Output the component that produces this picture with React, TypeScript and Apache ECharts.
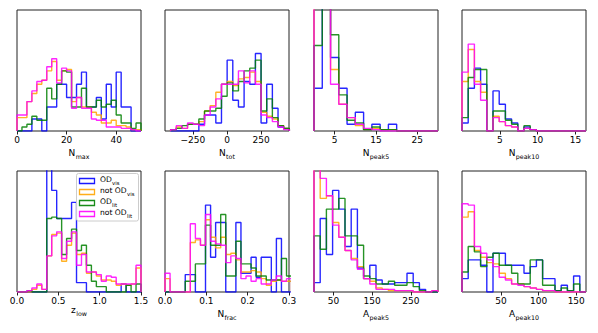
import { useEffect, useRef } from "react";
import * as echarts from "echarts";

const FONT = "DejaVu Sans";

// ---------- series meta ----------
const SERIES_NAMES = ["OD_vis", "not OD_vis", "OD_lit", "not OD_lit"];
const SERIES_COLORS = ["#0000ff", "#ffa500", "#008000", "#ff00ff"];
const LEGEND_MAIN = ["OD", "not OD", "OD", "not OD"];
const LEGEND_SUB = ["vis", "vis", "lit", "lit"];

// ---------- data (bin = [first edge, bin width]; values = relative histogram heights) ----------
// N_max
const nmaxBin = [0, 2];
const nmaxVis = [0, 0, 0, 9, 9, 0, 18, 18, 35, 35, 25, 25, 35, 44, 18, 18, 25, 9, 35, 18, 44, 18, 18, 0, 0];
const nmaxNotVis = [10, 10, 22, 28, 35, 38, 45, 52, 38, 45, 46, 22, 25, 18, 18, 14, 12, 6, 6, 8, 4, 4, 3, 1, 1];
const nmaxLit = [0, 3, 5, 11, 8, 8, 32, 24, 35, 45, 44, 18, 18, 32, 18, 18, 23, 18, 20, 23, 12, 6, 6, 2, 6];
const nmaxNotLit = [12, 12, 22, 30, 37, 38, 48, 54, 36, 47, 45, 17, 25, 17, 17, 9, 8, 8, 3, 3, 3, 2, 2, 1, 0];

// N_tot
const ntotBin = [-414, 41.5];
const ntotVis = [0, 0, 0, 0, 0, 5, 12, 12, 6, 35, 53, 23, 18, 37, 35, 58, 6, 35, 17, 3, 2];
const ntotNotVis = [1, 3, 2, 5, 5, 7, 15, 19, 29, 35, 37, 34, 39, 40, 44, 37, 14, 11, 9, 4, 2];
const ntotLit = [1, 2, 4, 5, 5, 9, 15, 15, 17, 26, 36, 30, 37, 45, 47, 53, 15, 24, 10, 4, 2];
const ntotNotLit = [1, 4, 2, 6, 5, 4, 12, 18, 24, 35, 35, 35, 45, 36, 45, 35, 12, 10, 7, 3, 1];

// N_peak5
const npeak5Bin = [0, 2];
const npeak5Vis = [32, 110, 55, 32, 5, 14, 1, 5, 1, 5, 0, 0, 0, 0, 0];
const npeak5NotVis = [110, 110, 46, 20, 10, 4, 1, 2, 1, 1, 0, 0, 0, 0, 0];
const npeak5Lit = [64, 110, 72, 27, 8, 6, 1, 3, 1, 1, 0, 0, 0, 0, 0];
const npeak5NotLit = [110, 110, 35, 20, 10, 5, 2, 1, 0, 0, 0, 0, 0, 0, 0];

// N_peak10
const npeak10Bin = [0, 0.82];
const npeak10Vis = [6, 32, 47, 35, 0, 30, 20, 9, 6, 0, 3, 1, 0, 0, 0, 0, 0, 0, 0, 0];
const npeak10NotVis = [37, 61, 37, 29, 0, 11, 7, 4, 3, 0, 2, 1, 0, 0, 0, 0, 0, 0, 0, 0];
const npeak10Lit = [10, 40, 46, 46, 0, 15, 15, 8, 5, 0, 4, 1, 0, 0, 0, 0, 0, 0, 0, 0];
const npeak10NotLit = [44, 65, 35, 23, 0, 10, 7, 4, 3, 0, 2, 1, 0, 0, 0, 0, 0, 0, 0, 0];

// z_low
const zlowBin = [0, 0.06];
const zlowVis = [0, 0, 0, 0, 0, 0, 125, 76, 55, 55, 55, 67, 7, 7, 0, 0, 0, 0, 0, 0, 0, 6, 0, 0, 0];
const zlowNotVis = [0, 0, 0, 2, 5, 2, 27, 43, 44, 23, 35, 44, 28, 29, 14, 15, 12, 9, 9, 8, 5, 6, 5, 6, 18];
const zlowLit = [0, 0, 1, 0, 0, 0, 55, 56, 55, 28, 40, 47, 31, 35, 20, 8, 4, 4, 0, 0, 0, 0, 5, 0, 6];
const zlowNotLit = [0, 0, 1, 3, 6, 2, 27, 42, 45, 25, 38, 45, 20, 28, 15, 15, 13, 8, 12, 11, 6, 6, 6, 6, 20];

// N_frac
const nfracBin = [0, 0.01225];
const nfracVis = [0, 0, 0, 0, 13, 13, 0, 0, 65, 26, 52, 52, 0, 0, 52, 14, 14, 26, 11, 26, 26, 0, 40, 0, 0];
const nfracNotVis = [10, 0, 0, 0, 0, 37, 39, 35, 54, 41, 33, 41, 28, 29, 24, 15, 15, 16, 15, 10, 5, 8, 9, 8, 8];
const nfracLit = [0, 0, 0, 0, 8, 8, 21, 21, 50, 35, 35, 58, 12, 12, 38, 21, 21, 18, 12, 12, 9, 9, 9, 25, 12];
const nfracNotLit = [14, 0, 0, 0, 0, 51, 40, 35, 58, 38, 36, 35, 22, 27, 25, 10, 12, 8, 10, 6, 6, 9, 12, 8, 10];

// A_peak5
const apeak5Bin = [0, 16];
const apeak5Vis = [7, 55, 28, 76, 62, 34, 62, 18, 10, 20, 9, 6, 6, 7, 7, 14, 7, 2, 0, 0];
const apeak5NotVis = [100, 70, 72, 52, 41, 31, 25, 19, 10, 8, 3, 2, 1, 1, 1, 1, 0, 0, 0, 1];
const apeak5Lit = [42, 32, 62, 62, 70, 42, 42, 35, 12, 10, 6, 6, 8, 5, 5, 7, 4, 1, 0, 0];
const apeak5NotLit = [100, 85, 72, 50, 41, 31, 24, 17, 10, 6, 2, 2, 2, 1, 1, 1, 0, 0, 0, 1];

// A_peak10
const apeak10Bin = [-2, 8.25];
const apeak10Vis = [10, 24, 24, 20, 0, 29, 29, 20, 20, 20, 14, 19, 24, 10, 10, 1, 5, 1, 12, 0];
const apeak10NotVis = [56, 60, 31, 26, 22, 21, 14, 10, 6, 6, 4, 3, 2, 1, 1, 0, 0, 0, 0, 0];
const apeak10Lit = [15, 34, 30, 19, 26, 29, 20, 20, 14, 6, 6, 24, 24, 5, 5, 1, 3, 1, 6, 0];
const apeak10NotLit = [66, 65, 34, 29, 24, 19, 11, 9, 6, 5, 4, 3, 2, 1, 1, 0, 0, 0, 0, 0];

// axis ranges & ticks
const nmaxRange = [0, 50];
const nmaxTicks = [0, 20, 40];
const ntotRange = [-455, 455];
const ntotTicks = [-250, 0, 250];
const npeak5Range = [0, 30];
const npeak5Ticks = [5, 15, 25];
const npeak10Range = [0, 16.4];
const npeak10Ticks = [5, 10, 15];
const zlowRange = [0, 1.5];
const zlowTicks = [0, 0.5, 1.0, 1.5];
const nfracRange = [0, 0.3];
const nfracTicks = [0, 0.1, 0.2, 0.3];
const apeak5Range = [0, 320];
const apeak5Ticks = [50, 150, 250];
const apeak10Range = [-2, 163];
const apeak10Ticks = [50, 100, 150];
const Y_MAX = 90.5;

const PANELS = [
  { main: "N", sub: "max", range: nmaxRange, ticks: nmaxTicks, bin: nmaxBin, data: [nmaxVis, nmaxNotVis, nmaxLit, nmaxNotLit], fmt: "int", drop: 26.6 },
  { main: "N", sub: "tot", range: ntotRange, ticks: ntotTicks, bin: ntotBin, data: [ntotVis, ntotNotVis, ntotLit, ntotNotLit], fmt: "int", drop: 26.6 },
  { main: "N", sub: "peak5", range: npeak5Range, ticks: npeak5Ticks, bin: npeak5Bin, data: [npeak5Vis, npeak5NotVis, npeak5Lit, npeak5NotLit], fmt: "int", drop: 26.6 },
  { main: "N", sub: "peak10", range: npeak10Range, ticks: npeak10Ticks, bin: npeak10Bin, data: [npeak10Vis, npeak10NotVis, npeak10Lit, npeak10NotLit], fmt: "int", drop: 26.6 },
  { main: "z", sub: "low", range: zlowRange, ticks: zlowTicks, bin: zlowBin, data: [zlowVis, zlowNotVis, zlowLit, zlowNotLit], fmt: "dec", drop: 22.5 },
  { main: "N", sub: "frac", range: nfracRange, ticks: nfracTicks, bin: nfracBin, data: [nfracVis, nfracNotVis, nfracLit, nfracNotLit], fmt: "dec", drop: 26.6 },
  { main: "A", sub: "peak5", range: apeak5Range, ticks: apeak5Ticks, bin: apeak5Bin, data: [apeak5Vis, apeak5NotVis, apeak5Lit, apeak5NotLit], fmt: "int", drop: 26.6 },
  { main: "A", sub: "peak10", range: apeak10Range, ticks: apeak10Ticks, bin: apeak10Bin, data: [apeak10Vis, apeak10NotVis, apeak10Lit, apeak10NotLit], fmt: "int", drop: 26.6 },
];

// ---------- layout ----------
const GRID_LEFTS = [17, 165, 314, 462];
const ROW_TOPS = [10, 171];
const GRID_W = 124;
const GRID_H = 121;
const NAME_SIZE = 9;
const NAME_SUB_SIZE = 6.3;
const LEG_SIZE = 7.6;
const LEG_SUB_SIZE = 5.4;

function stepLine(bin: number[], h: number[]) {
  const [start, w] = bin;
  const pts: number[][] = [[start, 0]];
  h.forEach((v, i) => {
    pts.push([start + i * w, v]);
    pts.push([start + (i + 1) * w, v]);
  });
  pts.push([start + h.length * w, 0]);
  return pts;
}

function fmtTick(kind: string) {
  return (v: number) => {
    if (kind === "dec") return v.toFixed(1);
    const r = Math.round(v);
    return r < 0 ? "\u2212" + Math.abs(r) : String(r);
  };
}

let measureCtx: CanvasRenderingContext2D | null = null;
function textWidth(text: string, size: number) {
  if (!measureCtx) measureCtx = document.createElement("canvas").getContext("2d");
  if (!measureCtx) return text.length * size * 0.6;
  measureCtx.font = `${size}px "${FONT}"`;
  return measureCtx.measureText(text).width;
}

// main text + subscript, left edge at x, main baseline at y
function subText(x: number, baseline: number, main: string, sub: string, size: number, subSize: number, z: number) {
  const wm = textWidth(main, size);
  return [
    {
      type: "text",
      z,
      x,
      y: baseline,
      style: { text: main, fontSize: size, fontFamily: FONT, fill: "#000", align: "left", verticalAlign: "bottom", textBaseline: "alphabetic" },
    },
    {
      type: "text",
      z,
      x: x + wm + 0.3,
      y: baseline + size * 0.2,
      style: { text: sub, fontSize: subSize, fontFamily: FONT, fill: "#000", align: "left", verticalAlign: "bottom", textBaseline: "alphabetic" },
    },
  ];
}

export default function App() {
  const ref = useRef<HTMLDivElement>(null);
  useEffect(() => {
    if (!ref.current) return;
    const chart = echarts.init(ref.current, undefined, { renderer: "svg" });
    const grids: any[] = [];
    const xAxes: any[] = [];
    const yAxes: any[] = [];
    const series: any[] = [];
    const graphic: any[] = [];
    PANELS.forEach((p, i) => {
      const row = Math.floor(i / 4);
      const col = i % 4;
      grids.push({
        left: GRID_LEFTS[col],
        top: ROW_TOPS[row],
        width: GRID_W,
        height: GRID_H,
        show: true,
        borderColor: "#222",
        borderWidth: 1,
        backgroundColor: "transparent",
      });
      xAxes.push({
        gridIndex: i,
        type: "value",
        min: p.range[0],
        max: p.range[1],
        axisLine: { show: false },
        splitLine: { show: false },
        axisTick: { show: true, length: 3.5, customValues: p.ticks, lineStyle: { color: "#222", width: 1 } },
        axisLabel: {
          customValues: p.ticks,
          formatter: fmtTick(p.fmt),
          fontSize: 9,
          fontFamily: FONT,
          color: "#000",
          margin: 4,
        },
      });
      yAxes.push({ gridIndex: i, type: "value", min: 0, max: Y_MAX, show: false });
      p.data.forEach((h, k) => {
        series.push({
          name: SERIES_NAMES[k],
          type: "line",
          xAxisIndex: i,
          yAxisIndex: i,
          data: stepLine(p.bin, h),
          symbol: "none",
          showSymbol: false,
          clip: true,
          silent: true,
          z: 2 + k,
          lineStyle: { color: SERIES_COLORS[k], width: 1.4, opacity: 0.85 },
          itemStyle: { color: SERIES_COLORS[k] },
        });
      });
      // axis title with subscript
      const total = textWidth(p.main, NAME_SIZE) + 0.3 + textWidth(p.sub, NAME_SUB_SIZE);
      const cx = GRID_LEFTS[col] + GRID_W / 2;
      const baseY = ROW_TOPS[row] + GRID_H + p.drop;
      graphic.push(...subText(cx - total / 2, baseY, p.main, p.sub, NAME_SIZE, NAME_SUB_SIZE, 50));
    });

    const legendX = 76.5;
    const legendY = 173.5;
    const rowYs = [181, 192, 203, 214];
    graphic.push({
      type: "rect",
      z: 100,
      shape: { x: legendX, y: legendY, width: 62, height: 47.5, r: 2 },
      style: { fill: "rgba(255,255,255,0.8)", stroke: "#cccccc", lineWidth: 1 },
    });
    rowYs.forEach((y, k) => {
      graphic.push({
        type: "rect",
        z: 101,
        shape: { x: 79.5, y: y - 2.5, width: 15, height: 5 },
        style: { fill: "none", stroke: SERIES_COLORS[k], lineWidth: 1.3, opacity: 0.9 },
      });
      graphic.push(...subText(100, y + 2.8, LEGEND_MAIN[k], LEGEND_SUB[k], LEG_SIZE, LEG_SUB_SIZE, 101));
    });

    chart.setOption({
      animation: false,
      backgroundColor: "#ffffff",
      grid: grids,
      xAxis: xAxes,
      yAxis: yAxes,
      series,
      graphic,
    });
    return () => chart.dispose();
  }, []);
  return (
    <div
      ref={ref}
      style={{ position: "fixed", left: 0, top: 0, width: 598, height: 333 }}
    />
  );
}
